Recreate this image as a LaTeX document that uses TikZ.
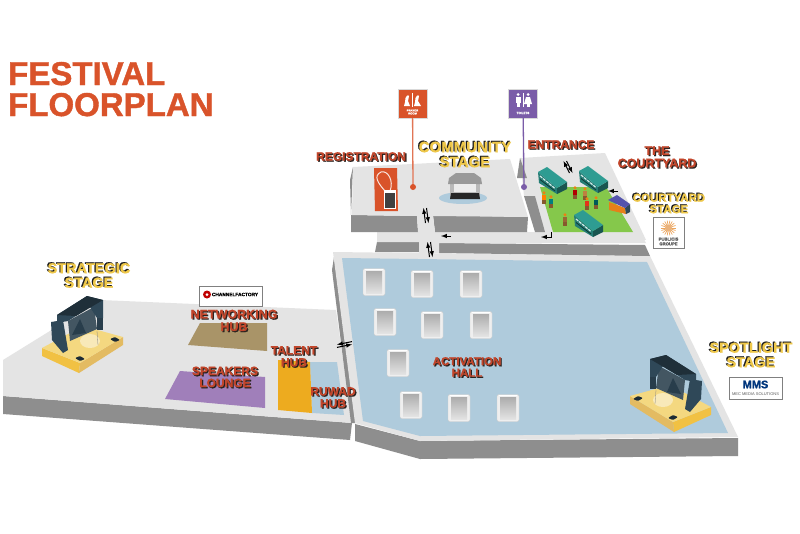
\documentclass[tikz,border=0pt]{standalone}
\usepackage{fontspec}
\setmainfont[BoldFeatures={FakeBold=1.2}]{Liberation Sans}
\usetikzlibrary{positioning}
\definecolor{floortop}{HTML}{E4E4E4}
\definecolor{floorwall}{HTML}{8E8E8E}
\definecolor{hallblue}{HTML}{AFCBDC}
\definecolor{titlered}{HTML}{D9532A}
\definecolor{hubred}{HTML}{C2452A}
\definecolor{hubdark}{HTML}{2B2320}
\definecolor{stageyellow}{HTML}{EFC84A}
\definecolor{stagedark}{HTML}{1E1E1E}
\definecolor{trussblue}{HTML}{2F4858}
\definecolor{busteal}{HTML}{2E9C92}
\definecolor{grassgreen}{HTML}{85C84B}
\definecolor{toiletpurple}{HTML}{7A5CA8}
\definecolor{talentgold}{HTML}{EDAB1F}
\definecolor{networktan}{HTML}{A99468}
\definecolor{speakerlilac}{HTML}{A07FBA}
\newcommand{\hubline}[1]{\makebox[0pt][l]{\kern1.2pt\raisebox{-1.2pt}{\textcolor{hubdark}{#1}}}\textcolor{hubred}{#1}}
\newcommand{\stageline}[1]{\makebox[0pt][l]{\kern-1.2pt\raisebox{1pt}{\textcolor{stagedark}{#1}}}\textcolor{stageyellow}{#1}}
\tikzset{
	maplabel/.style={font=\bfseries\fontsize{#1}{#1}\selectfont, align=center, inner sep=0pt},
	titletext/.style={font=\bfseries\fontsize{33}{33}\selectfont, text=titlered, inner sep=0pt, anchor=base west, text height=24pt, text depth=0pt},
	pinbox/.style={minimum width=29pt, minimum height=29pt, inner sep=0pt, draw=white!70!gray, line width=.4pt},
	logobox/.style={draw=gray, fill=white, line width=.6pt, inner sep=0pt},
	walk/.style={->, >=latex, line width=1pt, black},
	hallbox/.pic={
		\draw[floortop!90!black, fill=floortop!60!white, rounded corners=2pt, line width=.4pt] (-11,-13.5) rectangle (11,13.5);
		\shade[top color=gray!65, bottom color=gray!22] (-8,-11) rectangle (8,11);
		\draw[white, line width=1pt] (-9,-13) -- (9,-13);
	},
	bus/.pic={
		\fill[busteal!80!black] (-14,-8) -- (5,8) -- (5,14) -- (-13,3) -- cycle;
		\fill[busteal!55!black] (5,8) -- (15,2) -- (15,9) -- (5,14) -- cycle;
		\fill[busteal] (-14,-8) -- (-5,-13) -- (15,2) -- (5,8) -- cycle;
		\draw[white!80!busteal, line width=1.2pt, dash pattern=on 3pt off 1pt] (-12,-4) -- (3,8.5);
		\draw[busteal!35!black, line width=.8pt] (-12,-.5) -- (3,11);
	},
	person/.pic={
		\fill[#1] (-1.7,-2.5) rectangle (1.7,3);
		\fill[brown!70!black] (-1.7,3) rectangle (1.7,7);
		\fill[orange!70!brown] (0,-4.2) circle (1.7);
	},
	stageset/.pic={
		% platform
		\fill[stageyellow!90!orange] (-40,3) -- (-2,18) -- (-3,28) -- (-40,11) -- cycle;
		\fill[stageyellow!65!brown!85!white] (-2,18) -- (41,-8) -- (41,0) -- (-3,28) -- cycle;
		\fill[stageyellow!70!white] (1,-19) -- (41,-8) -- (-2,18) -- (-40,3) -- cycle;
		\fill[white, opacity=.45] (8,-4) ellipse (10 and 7);
		% truss
		\fill[trussblue!75!gray] (-14,-24) -- (12,-38) -- (15,-16) -- (-12,-4) -- cycle;
		\fill[trussblue!85!black] (-10,-10) -- (-2,-26) -- (4,-12) -- cycle;
		\fill[trussblue] (-25,-30) -- (5,-49) -- (21,-45) -- (21,-27) -- (15,-27) -- (8,-38) -- (-14,-24) -- (-25,-22) -- cycle;
		\fill[trussblue!65!black] (-25,-30) -- (5,-49) -- (21,-45) -- (-6,-29) -- cycle;
		\fill[trussblue] (-31,-23) -- (-19,-25) -- (-14,5) -- (-19,8) -- (-30,-5) -- cycle;
		\fill[trussblue!85!black] (15,-27) -- (21,-27) -- (21,-15) -- (15,-15) -- cycle;
		% speakers
		\fill[trussblue!60!black, rounded corners=1pt] (-7,13) -- (-2,16) -- (3,14) -- (-2,11) -- cycle;
		\fill[trussblue!60!black, rounded corners=1pt] (28,-6) -- (33,-3) -- (38,-5) -- (33,-8) -- cycle;
		\draw[gray, line width=.3pt] (15,-14) -- (16,0);
	}
}
\begin{document}
\begin{tikzpicture}[x=1pt, y=-1pt, >=latex]
	\useasboundingbox[fill=white] (0,0) rectangle (800,533);

	% title
	\node[titletext] (festival) at (8,85) {FESTIVAL};
	\node[titletext] (floorplan) at (8,116) {FLOORPLAN};

	% strategic side
	\fill[floorwall] (3,396) -- (352,423) -- (350,440) -- (3,414) -- cycle;
	\fill[floortop] (3,360) -- (100,300) -- (336,310) -- (352,423) -- (3,396) -- cycle;
	\fill[hallblue] (310,362) -- (337,362) -- (344,415) -- (312,413) -- cycle;
	\fill[talentgold] (278,360) -- (310,362) -- (312,413) -- (278,410) -- cycle;
	\fill[networktan] (200,323) -- (267,323) -- (267,351) -- (188,345) -- cycle;
	\fill[speakerlilac] (180,371) -- (265,377) -- (265,408) -- (165,399) -- cycle;

	% activation hall
	\fill[floorwall] (355,424) -- (420,441) -- (738,438) -- (738,456) -- (420,459) -- (355,441) -- cycle;
	\fill[floorwall] (334,257) -- (332,270) -- (351,423) -- (356,423) -- cycle;
	\fill[floortop] (333,252) -- (650,256) -- (738,437) -- (420,441) -- (355,423) -- cycle;
	\fill[hallblue] (342,258) -- (647,262) -- (728,433) -- (420,436) -- (363,421) -- cycle;
	\foreach \x/\y in {374/282,422/284,471/284,385/322,432/325,481/325,398/363,411/405,459/408,508/408}
	{
		\pic at (\x,\y) {hallbox};
	}

	% corridor strip
	\fill[floorwall] (375,252) -- (377,242) -- (419,242) -- (419,252) -- cycle;
	\fill[floorwall] (439,243) -- (645,245) -- (650,256) -- (439,253) -- cycle;
	\fill[floortop] (377,232) -- (640,232) -- (646,243) -- (439,243) -- (439,253) -- (419,253) -- (419,242) -- (377,242) -- cycle;

	% community block
	\fill[floorwall] (353,167) -- (350,180) -- (351,215) -- cycle;
	\fill[floorwall] (351,215) -- (417,216) -- (418,232) -- (351,232) -- cycle;
	\fill[floorwall] (433,215) -- (528,217) -- (527,232) -- (435,232) -- cycle;
	\fill[floortop] (353,167) -- (510,159) -- (528,217) -- (433,216) -- (435,232) -- (418,232) -- (417,216) -- (352,215) -- cycle;

	% courtyard
	\fill[floortop] (520,158) -- (605,153) -- (646,240) -- (545,236) -- (535,196) -- (524,196) -- cycle;
	\fill[floorwall] (520,158) -- (527,178) -- (517,178) -- cycle;
	\fill[floorwall] (524,196) -- (535,196) -- (545,232) -- (535,232) -- cycle;
	\fill[grassgreen] (540,187) -- (606,187) -- (633,232) -- (553,232) -- cycle;
	\foreach \x/\y/\c in {544/197/orange,551/201/teal,575/192/red!70!black,585/193/brown,587/203/red!60!brown,596/202/teal!70!black,565/219/brown!80!black}
	{
		\pic at (\x,\y) {person=\c};
	}
	\pic at (552,180) {bus};
	\pic at (593,179) {bus};
	\pic at (588,223) {bus};
	% courtyard hut
	\fill[orange!60!brown] (609,202) -- (625,208) -- (626,214) -- (609,210) -- cycle;
	\fill[trussblue] (625,208) -- (630,204) -- (630,212) -- (626,214) -- cycle;
	\fill[blue!35!gray] (608,200) -- (617,195) -- (630,204) -- (625,208) -- cycle;

	% community stage icon
	\fill[hallblue] (463,198) ellipse (24 and 6);
	\fill[gray!55] (450,183) rectangle (480,196);
	\fill[gray!80] (449,178) -- (456,173) -- (474,173) -- (481,178) -- (482,184) -- (448,184) -- cycle;
	\fill[white!85!gray] (454,184) rectangle (476,192);
	\fill[black!85] (451,193) -- (479,193) -- (480,199) -- (450,199) -- cycle;

	% registration badge
	\fill[titlered] (374,168) -- (397,168) -- (398,211) -- (375,211) -- cycle;
	\draw[white!85!titlered, line width=1pt] (385,191) .. controls (378,183) and (373,176) .. (381,172) .. controls (388,170) and (394,181) .. (390,191);
	\fill[white] (384,190) rectangle (396,209);
	\fill[black!75] (385,193) rectangle (395,208);

	% pins
	\node[pinbox, fill=titlered] (prayerpin) at (412.5,103.5) {};
	\coordinate (prayerdot) at (413,187);
	\draw[titlered!80!white, line width=1.3pt] (prayerpin) -- (prayerdot);
	\fill[titlered] (prayerdot) circle (3);
	\fill[white] (405,102) .. controls (405,96) and (408,94) .. (409,96) -- (408,101) -- (410,106) -- (404,106) -- cycle;
	\fill[white] (415,102) .. controls (415,96) and (418,94) .. (419,96) -- (418,101) -- (421,106) -- (414,106) -- cycle;
	\draw[white, line width=.3pt] (412.5,93) -- (412.5,107);
	\node[font=\bfseries\fontsize{2.8}{3}\selectfont, text=white, align=center, inner sep=0pt] (prayertext) at (412.5,112) {PRAYER\\ROOM};

	\node[pinbox, fill=toiletpurple] (toiletpin) at (523,103.5) {};
	\coordinate (toiletdot) at (524,187);
	\draw[toiletpurple, line width=1.3pt] (toiletpin) -- (toiletdot);
	\fill[toiletpurple] (toiletdot) circle (3);
	\fill[white] (518,94.5) circle (1.5);
	\fill[white] (528,94.5) circle (1.5);
	\fill[white] (515.5,97) rectangle (520.5,103);
	\fill[white] (516.5,103) rectangle (519.5,107);
	\fill[white] (526,97) -- (530,97) -- (532,104) -- (524,104) -- cycle;
	\fill[white] (526.5,104) rectangle (529.5,107);
	\draw[white, line width=.3pt] (523,93) -- (523,107);
	\node[font=\bfseries\fontsize{3}{3}\selectfont, text=white, inner sep=0pt] (toilettext) at (523,113) {TOILETS};

	% stages
	\pic at (82,345) {stageset};
	\pic[xscale=-1] at (671,404) {stageset};

	% walkways
	\coordinate (upa) at (425,208); \coordinate (upb) at (427,223);
	\coordinate (dna) at (429,242); \coordinate (dnb) at (431,257);
	\coordinate (yda) at (565,161); \coordinate (ydb) at (571,173);
	\coordinate (hla) at (337,346); \coordinate (hlb) at (352,343);
	\foreach \a/\b in {upa/upb,dna/dnb,yda/ydb}
	{
		\draw[walk] ([xshift=-1.5pt]\b) -- ([xshift=-1.5pt]\a);
		\draw[walk] ([xshift=1.5pt]\a) -- ([xshift=1.5pt]\b);
	}
	\draw[walk] ([yshift=-1.4pt]hla) -- ([yshift=-1.4pt]hlb);
	\draw[walk] ([yshift=1.4pt]hlb) -- ([yshift=1.4pt]hla);
	\coordinate (stripa) at (451,236); \coordinate (stripb) at (441,236);
	\draw[walk] (stripa) -- (stripb);
	\coordinate (turna) at (551,232); \coordinate (turnb) at (541,237);
	\draw[walk] (turna) |- (turnb);
	\coordinate (ydin) at (618,191); \coordinate (ydout) at (608,191);
	\draw[walk] (ydin) -- (ydout);

	% logos
	\node[logobox, minimum width=63pt, minimum height=20pt] (channelbox) at (230.5,296) {};
	\fill[red!75!black] (207,294.5) circle (4);
	\fill[white] (207,294.5) circle (1.5);
	\node[font=\bfseries\fontsize{4.8}{5}\selectfont, inner sep=0pt] (channeltext) at (235,294.5) {CHANNELFACTORY};

	\node[logobox, minimum width=31pt, minimum height=31pt] (publicisbox) at (668.5,232.5) {};
	\foreach \a in {0,20,...,340}
	{
		\draw[orange!60!brown!70!white, line width=.7pt] (668.5,228) -- +(\a:7.5);
	}
	\fill[orange!45!brown!60!white] (668.5,228) circle (3.5);
	\node[font=\bfseries\fontsize{4.2}{4.8}\selectfont, text=gray!70!black, align=center, inner sep=0pt] (publicistext) at (668.5,241.5) {PUBLICIS\\GROUPE};

	\node[logobox, minimum width=53pt, minimum height=22pt] (mmsbox) at (755.5,388) {};
	\node[font=\bfseries\fontsize{11}{11}\selectfont, text=teal!60!blue!70!black, inner sep=0pt] (mmstext) at (755.5,384.5) {MMS};
	\node[font=\fontsize{4}{4}\selectfont, text=gray!70!black, inner sep=0pt] (mmssub) at (755.5,394) {MEC MEDIA SOLUTIONS};

	% labels
	\node[maplabel=12] (registration) at (361,157) {\hubline{REGISTRATION}};
	\node[maplabel=12] (entrance) at (561,145) {\hubline{ENTRANCE}};
	\node[maplabel=12.5] (courtyard) at (657,157.5) {\hubline{THE}\\\hubline{COURTYARD}};
	\node[maplabel=12.5] (networking) at (234,321) {\hubline{NETWORKING}\\\hubline{HUB}};
	\node[maplabel=12] (speakers) at (225,377.5) {\hubline{SPEAKERS}\\\hubline{LOUNGE}};
	\node[maplabel=12] (talent) at (294,357) {\hubline{TALENT}\\\hubline{HUB}};
	\node[maplabel=12] (ruwad) at (333,398) {\hubline{RUWAD}\\\hubline{HUB}};
	\node[maplabel=11.5] (activation) at (467,367.5) {\hubline{ACTIVATION}\\\hubline{HALL}};

	\node[maplabel=15] (community) at (465,154) {\stageline{COMMUNITY}\\\stageline{STAGE}};
	\node[maplabel=11.5] (yardstage) at (669,203) {\stageline{COURTYARD}\\\stageline{STAGE}};
	\node[maplabel=14.5] (strategic) at (89,275) {\stageline{STRATEGIC}\\\stageline{STAGE}};
	\node[maplabel=14.5] (spotlight) at (751,354.5) {\stageline{SPOTLIGHT}\\\stageline{STAGE}};
\end{tikzpicture}
\end{document}
